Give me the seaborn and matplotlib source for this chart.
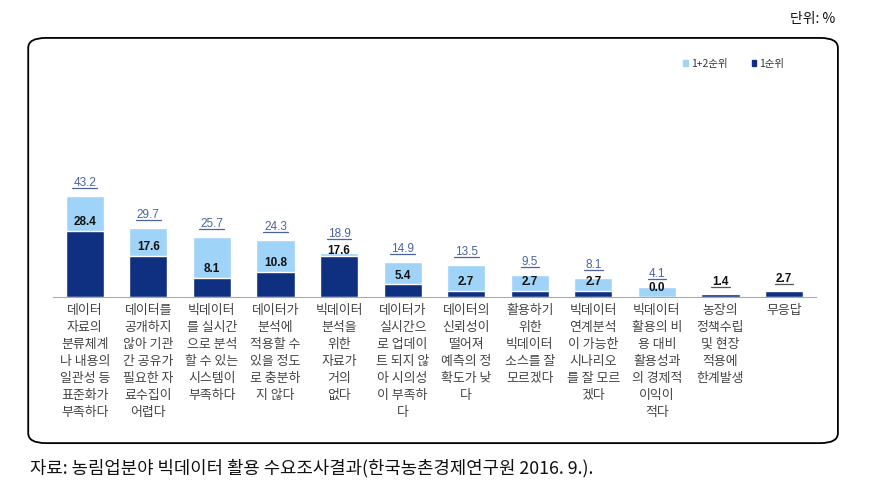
import matplotlib
matplotlib.use("Agg")
import matplotlib.pyplot as plt
from matplotlib.patches import FancyBboxPatch, Patch
from matplotlib.lines import Line2D
import seaborn as sns
import pandas as pd

# 데이터
categories = [
    "데이터\n자료의\n분류체계\n나 내용의\n일관성 등\n표준화가\n부족하다",
    "데이터를\n공개하지\n않아 기관\n간 공유가\n필요한 자\n료수집이\n어렵다",
    "빅데이터\n를 실시간\n으로 분석\n할 수 있는\n시스템이\n부족하다",
    "데이터가\n분석에\n적용할 수\n있을 정도\n로 충분하\n지 않다",
    "빅데이터\n분석을\n위한\n자료가\n거의\n없다",
    "데이터가\n실시간으\n로 업데이\n트 되지 않\n아 시의성\n이 부족하\n다",
    "데이터의\n신뢰성이\n떨어져\n예측의 정\n확도가 낮\n다",
    "활용하기\n위한\n빅데이터\n소스를 잘\n모르겠다",
    "빅데이터\n연계분석\n이 가능한\n시나리오\n를 잘 모르\n겠다",
    "빅데이터\n활용의 비\n용 대비\n활용성과\n의 경제적\n이익이\n적다",
    "농장의\n정책수립\n및 현장\n적용에\n한계발생",
    "무응답",
]
rank12 = [43.2, 29.7, 25.7, 24.3, 18.9, 14.9, 13.5, 9.5, 8.1, 4.1, 1.4, 2.7]
rank1 = [28.4, 17.6, 8.1, 10.8, 17.6, 5.4, 2.7, 2.7, 2.7, 0.0, 1.4, 2.7]

light = "#9fd3f7"
dark = "#0f2f80"
label_blue = "#4a64a0"

sns.set_style("white")
plt.rcParams["font.family"] = ["Noto Sans CJK KR", "DejaVu Sans"]

df = pd.DataFrame({"cat": categories, "r12": rank12, "r1": rank1})

fig = plt.figure(figsize=(8.82, 4.99), dpi=100)
ax = fig.add_axes([0.060, 0.405, 0.865, 0.234])

# 외곽 둥근 박스
box = FancyBboxPatch((0.032, 0.112), 0.918, 0.812, boxstyle="round,pad=0,rounding_size=0.02",
                     transform=fig.transFigure, fill=False, edgecolor="black", linewidth=1.3)
fig.patches.append(box)

sns.barplot(data=df, x="cat", y="r12", color=light, width=0.6, ax=ax, saturation=1)
sns.barplot(data=df, x="cat", y="r1", color=dark, width=0.6, ax=ax, saturation=1)

ax.set_ylim(0, 50)
ax.set_xlim(-0.5, 11.5)
ax.set_xlabel("")
ax.set_ylabel("")
ax.set_yticks([])
for s in ["top", "left", "right"]:
    ax.spines[s].set_visible(False)
ax.spines["bottom"].set_color("#aaaaaa")
ax.tick_params(axis="x", length=0, pad=5)
ax.set_xticks(range(len(categories)))
ax.set_xticklabels(categories, fontsize=9.3, color="#444444", linespacing=1.4, va="top")

# 값 라벨
underlined = []
for i, (t, f) in enumerate(zip(rank12, rank1)):
    if t == f:
        # 1순위와 1+2순위가 같으면 라벨이 겹쳐 하나로 보임
        tt = ax.annotate(f"{f:.1f}", (i, f), xytext=(0, 4), textcoords="offset points",
                         ha="center", va="bottom", fontsize=8.5, fontweight="bold",
                         color="#111111", family="Liberation Sans")
        underlined.append((tt, "#555555"))
        continue
    close = (t - f) < 3
    tt = ax.annotate(f"{t:.1f}", (i, t), xytext=(0, 9 if close else 5), textcoords="offset points",
                     ha="center", va="bottom", fontsize=8.5, color=label_blue,
                     family="Liberation Sans")
    underlined.append((tt, label_blue))
    ax.annotate(f"{f:.1f}", (i, f), xytext=(0, -1 if close else 2), textcoords="offset points",
                ha="center", va="bottom", fontsize=8.5, fontweight="bold", color="#111111",
                family="Liberation Sans")

# 밑줄
fig.canvas.draw()
renderer = fig.canvas.get_renderer()
inv = fig.transFigure.inverted()
for tt, c in underlined:
    bb = tt.get_window_extent(renderer)
    (x0, y0), (x1, _) = inv.transform([(bb.x0 - 1, bb.y0 + 1), (bb.x1 + 1, bb.y0 + 1)])
    fig.lines.append(Line2D([x0, x1], [y0, y0], transform=fig.transFigure,
                            color=c, linewidth=0.9))

# 범례
handles = [Patch(color=light, label="1+2순위"), Patch(color=dark, label="1순위")]
fig.legend(handles=handles, loc="center", bbox_to_anchor=(0.832, 0.872), ncol=2, frameon=False,
           fontsize=7.5, handlelength=0.45, handleheight=0.45, handletextpad=0.3, columnspacing=2.3,
           labelcolor="#333333")

fig.text(0.947, 0.962, "단위: %", ha="right", va="center", fontsize=10, color="#111111")
fig.text(0.034, 0.062, "자료: 농림업분야 빅데이터 활용 수요조사결과(한국농촌경제연구원 2016. 9.).",
         ha="left", va="center", fontsize=12.8, color="#111111")

fig.savefig("out.png", dpi=100)
